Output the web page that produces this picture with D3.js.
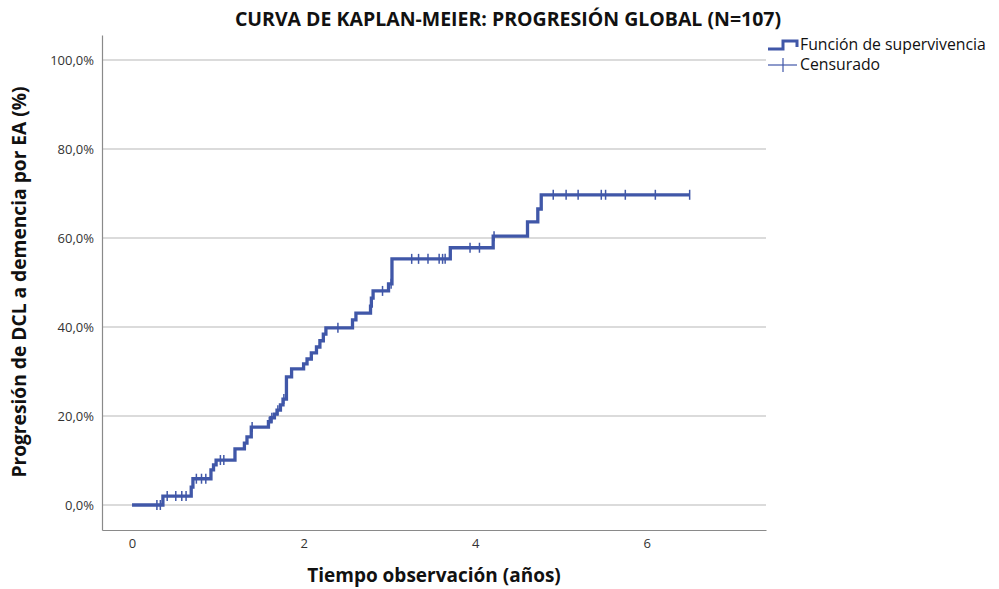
<!DOCTYPE html>
<html>
<head>
<meta charset="utf-8">
<script src="https://cdn.jsdelivr.net/npm/d3@7"></script>
<style>
  body { margin: 0; background: #fff; }
  text { font-family: "Open Sans", "Noto Sans", sans-serif; }
</style>
</head>
<body>
<script>
var width = 999,
  height = 589;

// Kaplan-Meier steps: time (years) and cumulative progression (%)
var stepTimes = [0.36, 0.69, 0.71, 0.92, 0.95, 0.98, 1.20, 1.31, 1.34, 1.39,
  1.59, 1.62, 1.66, 1.69, 1.73, 1.76, 1.80, 1.86, 2.00, 2.04,
  2.09, 2.15, 2.19, 2.23, 2.26, 2.57, 2.61, 2.78, 2.79, 2.81,
  2.99, 3.03, 3.71, 4.21, 4.61, 4.73, 4.77];
var stepLevels = [2.0, 4.0, 5.9, 7.9, 9.0, 10.1, 12.6, 13.9, 15.3, 17.5,
  18.7, 19.6, 20.4, 21.3, 22.5, 23.8, 28.8, 30.6, 31.7, 32.8,
  34.2, 35.5, 36.9, 38.4, 39.8, 41.6, 43.1, 44.7, 46.5, 48.1,
  49.7, 55.3, 57.8, 60.4, 63.6, 66.5, 69.7];
var lastTime = 6.5;

// censored observations (years)
var censorTimes = [0.29, 0.33, 0.41, 0.51, 0.58, 0.63, 0.75, 0.81, 0.86, 1.03,
  1.07, 1.40, 1.60, 1.63, 1.70, 1.77, 2.40, 2.92, 3.02, 3.26,
  3.34, 3.45, 3.58, 3.62, 3.65, 3.94, 4.05, 4.22, 4.91, 5.06,
  5.20, 5.47, 5.52, 5.75, 6.10, 6.50];

var xTicks = [0, 2, 4, 6];
var yTicks = [0, 20, 40, 60, 80, 100];

var title = "CURVA DE KAPLAN-MEIER: PROGRESIÓN GLOBAL (N=107)";
var xTitle = "Tiempo observación (años)";
var yTitle = "Progresión de DCL a demencia por EA (%)";
var legendLabels = ["Función de supervivencia", "Censurado"];

var lineColor = "#4057a8";

var svg = d3.select("body").append("svg")
  .attr("width", width)
  .attr("height", height);

// scales
var x = d3.scaleLinear().domain([-0.35, 7.39]).range([102, 766]);
var y = d3.scaleLinear().domain([-5.62, 105.6]).range([530, 35]);

// grid lines
svg.append("g")
  .selectAll("line")
  .data(yTicks)
  .enter()
  .append("line")
  .attr("x1", x.range()[0])
  .attr("x2", x.range()[1])
  .attr("y1", function (d) { return y(d); })
  .attr("y2", function (d) { return y(d); })
  .style("stroke", "#cfcfcf")
  .style("stroke-width", 1.5);

// y axis
var yAxis = svg.append("g")
  .attr("transform", "translate(" + x.range()[0] + ",0)")
  .call(d3.axisLeft(y).tickValues(yTicks).tickSize(0).tickPadding(8)
    .tickFormat(function (d) { return d3.format(".1f")(d).replace(".", ",") + "%"; }));
yAxis.select(".domain").style("stroke", "#8a8a8a").style("stroke-width", 1.2);
yAxis.selectAll("text").style("font-size", "13px").style("fill", "#333");

// x axis
var xAxis = svg.append("g")
  .attr("transform", "translate(0," + y.range()[0] + ")")
  .call(d3.axisBottom(x).tickValues(xTicks).tickSize(0).tickPadding(9));
xAxis.select(".domain").style("stroke", "#8a8a8a").style("stroke-width", 1.2);
xAxis.selectAll("text").style("font-size", "13px").style("fill", "#333");

// step function
function levelAt(t) {
  var lv = 0;
  for (var i = 0; i < stepTimes.length; i++) {
    if (stepTimes[i] <= t) lv = stepLevels[i];
  }
  return lv;
}

var pts = [[0, 0]];
stepTimes.forEach(function (t, i) { pts.push([t, stepLevels[i]]); });
pts.push([lastTime, stepLevels[stepLevels.length - 1]]);

var line = d3.line()
  .x(function (d) { return x(d[0]); })
  .y(function (d) { return y(d[1]); })
  .curve(d3.curveStepAfter);

svg.append("path")
  .datum(pts)
  .attr("d", line)
  .style("fill", "none")
  .style("stroke", lineColor)
  .style("stroke-width", 3.3);

// censored marks
svg.append("g")
  .selectAll("line")
  .data(censorTimes)
  .enter()
  .append("line")
  .attr("x1", function (d) { return x(d); })
  .attr("x2", function (d) { return x(d); })
  .attr("y1", function (d) { return y(levelAt(d)) - 5; })
  .attr("y2", function (d) { return y(levelAt(d)) + 5; })
  .style("stroke", lineColor)
  .style("stroke-width", 1.5);

// titles
svg.append("text")
  .attr("x", 508)
  .attr("y", 26)
  .attr("text-anchor", "middle")
  .style("font-size", "19.5px")
  .style("font-weight", "bold")
  .style("fill", "#111")
  .text(title);

svg.append("text")
  .attr("x", 434)
  .attr("y", 582)
  .attr("text-anchor", "middle")
  .style("font-size", "19px")
  .style("font-weight", "bold")
  .style("fill", "#111")
  .text(xTitle);

svg.append("text")
  .attr("transform", "translate(26,282) rotate(-90)")
  .attr("text-anchor", "middle")
  .style("font-size", "19.2px")
  .style("font-weight", "bold")
  .style("fill", "#111")
  .text(yTitle);

// legend
var lg = svg.append("g").attr("transform", "translate(768,0)");
lg.append("path")
  .attr("d", "M0,49 H15 V41 H29 V47")
  .style("fill", "none")
  .style("stroke", lineColor)
  .style("stroke-width", 3);
lg.append("line")
  .attr("x1", 0).attr("x2", 29).attr("y1", 65).attr("y2", 65)
  .style("stroke", lineColor).style("stroke-width", 1.2);
lg.append("line")
  .attr("x1", 15).attr("x2", 15).attr("y1", 58).attr("y2", 72)
  .style("stroke", lineColor).style("stroke-width", 1.2);
lg.selectAll("text.lab")
  .data(legendLabels)
  .enter()
  .append("text")
  .attr("class", "lab")
  .attr("x", 32)
  .attr("y", function (d, i) { return 50 + i * 20; })
  .style("font-size", "15.8px")
  .style("fill", "#111")
  .text(function (d) { return d; });
</script>
</body>
</html>
